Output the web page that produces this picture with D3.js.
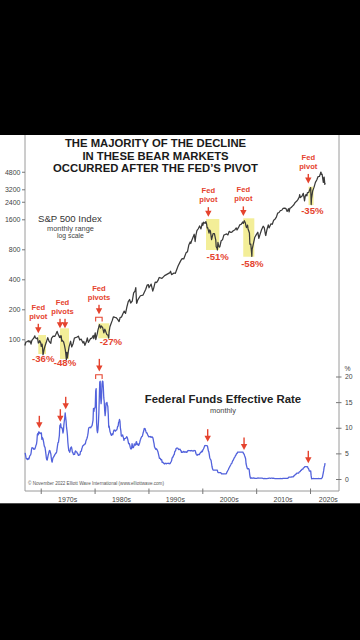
<!DOCTYPE html>
<html><head><meta charset="utf-8">
<script src="https://cdn.jsdelivr.net/npm/d3@7"></script>
<style>
html,body{margin:0;padding:0;background:#000;}
svg{display:block;}
text{font-family:"Liberation Sans",Arial,Helvetica,sans-serif;}
</style></head><body>
<svg id="c" width="360" height="640"></svg>
<script>
// ---------- DATA ----------
const titleLines = ["THE MAJORITY OF THE DECLINE", "IN THESE BEAR MARKETS", "OCCURRED AFTER THE FED\u2019S PIVOT"];
const spTicks = [100, 200, 400, 800, 1600, 2400, 3200, 4800];
const rateTicks = [0, 5, 10, 15, 20];
const decadeTicks = [1970, 1980, 1990, 2000, 2010, 2020];
const decadeLabels = ["1970s", "1980s", "1990s", "2000s", "2010s", "2020s"];

// S&P 500 (date as decimal year, index level)
const spPoints = [
 [1967.05,86.6],[1967.25,94.0],[1967.5,94.8],[1967.72,96.7],[1967.83,93.9],[1968.0,96.5],[1968.2,89.4],[1968.35,97.5],[1968.5,99.6],[1968.7,102.7],[1968.9,108.4],
 [1969.0,103.9],[1969.25,101.5],[1969.4,103.5],[1969.55,91.8],[1969.7,93.1],[1969.8,97.1],[1970.0,92.1],[1970.1,85.0],[1970.25,89.6],[1970.35,81.5],[1970.42,70.0],
 [1970.5,72.7],[1970.6,78.0],[1970.75,84.2],[1971.0,92.2],[1971.3,104.0],[1971.55,95.6],[1971.87,91.0],[1972.0,102.1],[1972.3,107.7],[1972.6,107.0],[1972.75,110.6],
 [1973.0,118.1],[1973.05,120.2],[1973.25,111.5],[1973.5,104.3],[1973.6,108.2],[1973.68,104.2],[1973.8,108.3],[1973.9,96.0],[1974.0,97.6],[1974.25,94.0],[1974.4,87.3],
 [1974.55,79.3],[1974.65,72.2],[1974.76,62.5],[1974.85,73.9],[1974.95,65.0],[1975.0,68.6],[1975.25,83.4],[1975.55,95.6],[1975.75,83.9],[1976.0,90.2],[1976.25,102.8],
 [1976.5,104.3],[1976.75,105.2],[1977.0,107.5],[1977.25,98.4],[1977.5,100.5],[1977.85,92.0],[1978.0,95.1],[1978.2,87.0],[1978.5,95.5],[1978.65,103.3],[1978.85,93.2],
 [1979.0,96.1],[1979.25,101.6],[1979.5,102.9],[1979.75,109.3],[1979.85,101.8],[1980.0,107.9],[1980.12,116.0],[1980.22,99.5],[1980.5,114.2],[1980.6,122.4],[1980.9,140.5],
 [1981.0,135.8],[1981.1,129.5],[1981.25,136.0],[1981.5,131.2],[1981.72,116.2],[1981.9,126.4],[1982.0,122.6],[1982.25,112.0],[1982.5,109.6],[1982.62,103.0],[1982.7,119.5],
 [1982.85,133.7],[1983.0,140.6],[1983.25,153.0],[1983.5,168.1],[1983.8,166.1],[1984.0,164.9],[1984.25,159.2],[1984.55,150.7],[1984.75,166.1],[1985.0,167.2],[1985.25,180.7],
 [1985.5,191.9],[1985.75,182.1],[1986.0,211.3],[1986.25,238.9],[1986.5,250.8],[1986.7,231.3],[1987.0,242.2],[1987.25,291.7],[1987.5,304.0],[1987.65,329.8],[1987.8,230.0],
 [1987.85,230.3],[1988.0,247.1],[1988.5,273.5],[1989.0,277.7],[1989.5,318.0],[1989.75,349.2],[1990.0,353.4],[1990.1,329.1],[1990.5,358.0],[1990.8,304.0],[1991.0,330.2],
 [1991.25,375.2],[1991.5,371.2],[1991.75,387.9],[1992.0,417.1],[1992.5,408.1],[1993.0,435.7],[1993.5,450.5],[1994.0,466.5],[1994.1,481.6],[1994.3,445.8],[1994.75,462.7],
 [1995.0,459.3],[1995.5,544.8],[1996.0,615.9],[1996.25,645.5],[1996.55,639.9],[1997.0,740.7],[1997.25,757.1],[1997.5,885.1],[1997.75,947.3],[1997.85,914.6],[1998.0,970.4],
 [1998.5,1133.8],[1998.67,957.3],[1998.8,1098.7],[1999.0,1229.2],[1999.25,1286.4],[1999.5,1372.7],[1999.75,1282.7],[2000.0,1469.3],[2000.1,1394.5],[2000.25,1498.6],
 [2000.5,1454.6],[2000.67,1517.7],[2000.8,1429.4],[2000.9,1315.2],[2001.0,1320.3],[2001.25,1160.3],[2001.35,1249.5],[2001.5,1224.4],[2001.72,1000.0],[2002.0,1148.1],
 [2002.25,1147.4],[2002.5,989.8],[2002.58,850.0],[2002.75,815.3],[2002.8,790.0],[2002.9,936.3],[2003.0,879.8],[2003.15,841.2],[2003.25,848.2],[2003.5,974.5],[2003.75,996.0],
 [2004.0,1111.9],[2004.25,1126.2],[2004.5,1140.8],[2004.75,1114.6],[2005.0,1211.9],[2005.3,1180.6],[2005.5,1191.3],[2005.75,1228.8],[2006.0,1248.3],[2006.3,1310.6],
 [2006.45,1250.0],[2006.75,1335.9],[2007.0,1418.3],[2007.2,1420.9],[2007.5,1503.4],[2007.6,1455.3],[2007.8,1549.4],[2008.0,1468.4],[2008.1,1378.6],[2008.2,1322.7],
 [2008.4,1400.4],[2008.5,1280.0],[2008.75,1166.4],[2008.83,900.0],[2008.9,896.2],[2009.0,903.3],[2009.15,735.1],[2009.2,680.0],[2009.25,797.9],[2009.5,919.3],
 [2009.75,1057.1],[2010.0,1115.1],[2010.3,1186.7],[2010.5,1030.7],[2010.75,1141.2],[2011.0,1257.6],[2011.3,1363.6],[2011.5,1320.6],[2011.72,1131.4],[2011.78,1100.0],
 [2012.0,1257.6],[2012.25,1408.5],[2012.4,1310.3],[2012.75,1440.7],[2013.0,1426.2],[2013.25,1569.2],[2013.5,1606.3],[2013.75,1681.6],[2014.0,1848.4],[2014.25,1872.3],
 [2014.5,1960.2],[2014.75,1972.3],[2015.0,2058.9],[2015.25,2067.9],[2015.5,2063.1],[2015.65,1972.2],[2015.75,1920.0],[2016.0,2043.9],[2016.12,1900.0],[2016.25,2059.7],
 [2016.5,2098.9],[2016.75,2168.3],[2017.0,2238.8],[2017.25,2362.7],[2017.5,2423.4],[2017.75,2519.4],[2018.0,2673.6],[2018.08,2823.8],[2018.2,2640.9],[2018.5,2718.4],
 [2018.75,2914.0],[2018.85,2711.7],[2018.98,2450.0],[2019.1,2704.1],[2019.25,2834.4],[2019.42,2752.1],[2019.5,2941.8],[2019.75,2976.7],[2020.0,3230.8],[2020.12,3330.0],
 [2020.22,2250.0],[2020.28,2584.6],[2020.5,3100.3],[2020.75,3363.0],[2021.0,3756.1],[2021.25,3972.9],[2021.5,4297.5],[2021.75,4307.5],[2021.9,4567.0],[2022.0,4766.2],
 [2022.05,4750.0],[2022.1,4515.6],[2022.25,4530.4],[2022.35,4132.2],[2022.47,3750.0],[2022.55,4130.3],[2022.62,4250.0],[2022.75,3585.6],[2022.8,3720.0]
];

// Federal funds effective rate, monthly, starting January 1967
const fedStartYear = 1967;
const fedRates = [
 4.94,5.00,4.53,4.05,3.94,3.98,3.79,3.90,3.99,3.88,4.13,4.51,
 4.61,4.71,5.05,5.76,6.11,6.07,6.02,6.03,5.78,5.91,5.82,6.02,
 6.30,6.61,6.79,7.41,8.67,8.90,8.61,9.19,9.15,9.00,8.85,8.97,
 8.98,8.98,7.76,8.10,7.95,7.61,7.21,6.61,6.29,6.20,5.60,4.90,
 4.14,3.72,3.71,4.16,4.63,4.91,5.31,5.56,5.55,5.20,4.91,4.14,
 3.50,3.29,3.83,4.17,4.27,4.46,4.55,4.80,4.87,5.04,5.06,5.33,
 5.94,6.58,7.09,7.12,7.84,8.49,10.40,10.50,10.78,10.01,10.03,9.95,
 9.65,8.97,9.35,10.51,11.31,11.93,12.92,12.01,11.34,10.06,9.45,8.53,
 7.13,6.24,5.54,5.49,5.22,5.55,6.10,6.14,6.24,5.82,5.22,5.20,
 4.87,4.77,4.84,4.82,5.29,5.48,5.31,5.29,5.25,5.02,4.95,4.65,
 4.61,4.68,4.69,4.73,5.35,5.39,5.42,5.90,6.14,6.47,6.51,6.56,
 6.70,6.78,6.79,6.89,7.36,7.60,7.81,8.04,8.45,8.96,9.76,10.03,
 10.07,10.06,10.09,10.01,10.24,10.29,10.47,10.94,11.43,13.77,13.18,13.78,
 13.82,14.13,17.19,17.61,10.98,9.47,9.03,9.61,10.87,12.81,15.85,18.90,
 19.08,15.93,14.70,15.72,18.52,19.10,19.04,17.82,15.87,15.08,13.31,12.37,
 13.22,14.78,14.68,14.94,14.45,14.15,12.59,10.12,10.31,9.71,9.20,8.95,
 8.68,8.51,8.77,8.80,8.63,8.98,9.37,9.56,9.45,9.48,9.34,9.47,
 9.56,9.59,9.91,10.29,10.32,11.06,11.23,11.64,11.30,9.99,9.43,8.38,
 8.35,8.50,8.58,8.27,7.97,7.53,7.88,7.90,7.92,7.99,8.05,8.27,
 8.14,7.86,7.48,6.99,6.85,6.92,6.56,6.17,5.89,5.85,6.04,6.91,
 6.43,6.10,6.13,6.37,6.85,6.73,6.58,6.73,7.22,7.29,6.69,6.77,
 6.83,6.58,6.58,6.87,7.09,7.51,7.75,8.01,8.19,8.30,8.35,8.76,
 9.12,9.36,9.85,9.84,9.81,9.53,9.24,8.99,9.02,8.84,8.55,8.45,
 8.23,8.24,8.28,8.26,8.18,8.29,8.15,8.13,8.20,8.11,7.81,7.31,
 6.91,6.25,6.12,5.91,5.78,5.90,5.82,5.66,5.45,5.21,4.81,4.43,
 4.03,4.06,3.98,3.73,3.82,3.76,3.25,3.30,3.22,3.10,3.09,2.92,
 3.02,3.03,3.07,2.96,3.00,3.04,3.06,3.03,3.09,2.99,3.02,2.96,
 3.05,3.25,3.34,3.56,4.01,4.25,4.26,4.47,4.73,4.76,5.29,5.45,
 5.53,5.92,5.98,6.05,6.01,6.00,5.85,5.74,5.80,5.76,5.80,5.60,
 5.56,5.22,5.31,5.22,5.24,5.27,5.40,5.22,5.30,5.24,5.31,5.29,
 5.25,5.19,5.39,5.51,5.50,5.56,5.52,5.54,5.54,5.50,5.52,5.50,
 5.56,5.51,5.49,5.45,5.49,5.56,5.54,5.55,5.51,5.07,4.83,4.68,
 4.63,4.76,4.81,4.74,4.74,4.76,4.99,5.07,5.22,5.20,5.42,5.30,
 5.45,5.73,5.85,6.02,6.27,6.53,6.54,6.50,6.52,6.51,6.51,6.40,
 5.98,5.49,5.31,4.80,4.21,3.97,3.77,3.65,3.07,2.49,2.09,1.82,
 1.73,1.74,1.73,1.75,1.75,1.75,1.73,1.74,1.75,1.75,1.34,1.24,
 1.24,1.26,1.25,1.26,1.26,1.22,1.01,1.03,1.01,1.01,1.00,0.98,
 1.00,1.01,1.00,1.00,1.00,1.03,1.26,1.43,1.61,1.76,1.93,2.16,
 2.28,2.50,2.63,2.79,3.00,3.04,3.26,3.50,3.62,3.78,4.00,4.16,
 4.29,4.49,4.59,4.79,4.94,4.99,5.24,5.25,5.25,5.25,5.25,5.24,
 5.25,5.26,5.26,5.25,5.25,5.25,5.26,5.02,4.94,4.76,4.49,4.24,
 3.94,2.98,2.61,2.28,1.98,2.00,2.01,2.00,1.81,0.97,0.39,0.16,
 0.15,0.22,0.18,0.15,0.18,0.21,0.16,0.16,0.15,0.12,0.12,0.12,
 0.11,0.13,0.16,0.20,0.20,0.18,0.18,0.19,0.19,0.19,0.19,0.18,
 0.17,0.16,0.14,0.10,0.09,0.09,0.07,0.10,0.08,0.07,0.08,0.07,
 0.08,0.10,0.13,0.14,0.16,0.16,0.16,0.13,0.14,0.16,0.16,0.16,
 0.14,0.15,0.14,0.15,0.11,0.09,0.09,0.08,0.08,0.09,0.08,0.09,
 0.07,0.07,0.08,0.09,0.09,0.10,0.09,0.09,0.09,0.09,0.09,0.12,
 0.11,0.11,0.11,0.12,0.12,0.13,0.13,0.14,0.14,0.12,0.12,0.24,
 0.34,0.38,0.36,0.37,0.37,0.38,0.39,0.40,0.40,0.40,0.41,0.54,
 0.65,0.66,0.79,0.90,0.91,1.04,1.15,1.16,1.15,1.15,1.16,1.30,
 1.41,1.42,1.51,1.69,1.70,1.82,1.91,1.91,1.95,2.19,2.20,2.27,
 2.40,2.40,2.41,2.42,2.39,2.38,2.40,2.13,2.04,1.83,1.55,1.55,
 1.55,1.58,0.65,0.05,0.05,0.08,0.09,0.10,0.09,0.09,0.09,0.09,
 0.09,0.08,0.07,0.07,0.06,0.08,0.10,0.09,0.08,0.08,0.08,0.08,
 0.08,0.08,0.20,0.33,0.77,1.21,1.68,2.33,2.56,3.08
];

// Bear markets highlighted (yellow boxes)
const bearStart = [1969.55, 1973.58, 1980.69, 2000.69, 2007.60, 2019.73];
const bearEnd   = [1970.98, 1975.25, 1982.73, 2003.16, 2009.66, 2020.66];
const bearHigh  = [110.4, 128.9, 144.7, 1612, 1637, 3398];
const bearLow   = [71.2, 63.5, 102.3, 787, 674, 2222];
const bearPct   = ["-36%", "-48%", "-27%", "-51%", "-58%", "-35%"];
const pctDate   = [1970.48, 1974.51, 1983.02, 2002.86, 2009.29, 2020.43];
const pctValue  = [58.8, 54.0, 87.6, 625, 535, 1809];

// Fed pivot arrows on the S&P panel
const pivotWord    = ["pivot", "pivots", "pivots", "pivot", "pivot", "pivot"];
const spArrowDates = [[1969.55], [1973.58, 1974.51], [1980.82], [2001.12], [2007.62], [2019.68]];
const spArrowValue = [114.9, 128.9, 178.2, 1700, 1730, 3664];
const spBracket    = [false, false, true, false, false, false];
// Fed pivot arrows on the rate panel
const fedArrowDate = [1969.74, 1973.64, 1974.64, 1980.88, 2001.0, 2007.75, 2019.68];
const fedArrowRate = [9.89, 11.18, 13.6, 21.0, 7.28, 5.66, 3.06];
const fedBracket   = [false, false, false, true, false, false, false];
const bracketSpan  = [1980.2, 1981.4];

// ---------- DRAW ----------
const RED = "#e5432e", YEL = "#f3ee98", BLUE = "#5262dc", AXIS = "#9a9a9a", TXT = "#333";
const svg = d3.select("#c");
svg.append("rect").attr("width", 360).attr("height", 640).attr("fill", "#000");
svg.append("rect").attr("x", 0).attr("y", 135).attr("width", 360).attr("height", 368.3).attr("fill", "#fff");

const x = d3.scaleLinear().domain([1967.08, 2025.38]).range([25, 339]);
const ySP = d3.scaleLog().domain([50, 6400]).range([369.3, 159.3]);
const yFF = d3.scaleLinear().domain([0, 20]).range([479, 376.5]);

// Title
svg.append("g").selectAll("text").data(titleLines).join("text")
  .attr("x", 155.5).attr("y", (d, i) => 147.3 + i * 12.3)
  .attr("text-anchor", "middle").attr("font-size", 11.3).attr("font-weight", "bold")
  .attr("fill", "#1a1a1a").text(d => d);

// Frame lines
svg.append("line").attr("x1", 25).attr("x2", 25).attr("y1", 135).attr("y2", 491).attr("stroke", AXIS).attr("stroke-width", 1);
svg.append("line").attr("x1", 339).attr("x2", 339).attr("y1", 135).attr("y2", 491).attr("stroke", AXIS).attr("stroke-width", 1);

// Left axis (S&P log scale)
const gL = svg.append("g").attr("transform", "translate(25,0)")
  .call(d3.axisLeft(ySP).tickValues(spTicks).tickFormat(d3.format("d")).tickSize(3).tickPadding(1.5));
gL.select(".domain").remove();
gL.selectAll("line").attr("stroke", "#777");
gL.selectAll("text").attr("font-size", 7).attr("fill", "#444").attr("font-family", '"Liberation Sans",Arial,sans-serif');

// Right axis (rates)
const gR = svg.append("g").attr("transform", "translate(339,0)")
  .call(d3.axisRight(yFF).tickValues(rateTicks).tickSize(3).tickPadding(3));
gR.select(".domain").remove();
gR.selectAll("line").attr("x1", -3).attr("x2", 2.5).attr("stroke", "#777");
gR.selectAll("text").attr("font-size", 6.8).attr("fill", "#444").attr("font-family", '"Liberation Sans",Arial,sans-serif');
svg.append("text").attr("x", 344.5).attr("y", 370.5).attr("font-size", 6.8).attr("fill", "#444").text("%");

// Bottom axis
const gB = svg.append("g").attr("transform", "translate(0,491)")
  .call(d3.axisBottom(x).tickValues(decadeTicks).tickSize(3).tickFormat(""));
gB.select(".domain").attr("d", "M25,0H339").attr("stroke", AXIS);
gB.selectAll(".tick line").attr("y1", -2.5).attr("y2", 3).attr("stroke", "#777");
svg.append("g").selectAll("text").data(decadeTicks).join("text")
  .attr("x", d => x(Math.min(d + 5, 2023.4))).attr("y", 501.5)
  .attr("text-anchor", "middle").attr("font-size", 7).attr("fill", "#444")
  .text((d, i) => decadeLabels[i]);

// Yellow boxes
svg.append("g").selectAll("rect").data(bearStart).join("rect")
  .attr("x", (d) => x(d)).attr("width", (d, i) => x(bearEnd[i]) - x(d))
  .attr("y", (d, i) => ySP(bearHigh[i])).attr("height", (d, i) => ySP(bearLow[i]) - ySP(bearHigh[i]))
  .attr("fill", YEL);

// S&P line
svg.append("path").datum(spPoints)
  .attr("d", d3.line().x(d => x(d[0])).y(d => ySP(d[1])))
  .attr("fill", "none").attr("stroke", "#3a3a3a").attr("stroke-width", 1.25).attr("stroke-linejoin", "round");

// S&P labels
svg.append("text").attr("x", 38).attr("y", 221.7).attr("font-size", 9.6).attr("fill", "#333").text("S&P 500 Index");
svg.append("text").attr("x", 70.5).attr("y", 230.7).attr("font-size", 7.4).attr("fill", "#444").attr("text-anchor", "middle").text("monthly range");
svg.append("text").attr("x", 70.5).attr("y", 238.3).attr("font-size", 6.8).attr("fill", "#444").attr("text-anchor", "middle").text("log scale");

// Fed funds line
const fedSeries = fedRates.map((v, i) => [fedStartYear + i / 12 + 1 / 24, v]);
svg.append("path").datum(fedSeries)
  .attr("d", d3.line().x(d => x(d[0])).y(d => yFF(d[1])))
  .attr("fill", "none").attr("stroke", BLUE).attr("stroke-width", 1.3).attr("stroke-linejoin", "round");

svg.append("text").attr("x", 223).attr("y", 403).attr("text-anchor", "middle")
  .attr("font-size", 11.4).attr("font-weight", "bold").attr("fill", "#222").text("Federal Funds Effective Rate");
svg.append("text").attr("x", 223).attr("y", 412.7).attr("text-anchor", "middle")
  .attr("font-size", 7.4).attr("fill", "#444").text("monthly");

svg.append("text").attr("x", 28).attr("y", 485.3).attr("font-size", 4.6).attr("fill", "#555")
  .text("\u00A9 November 2022 Elliott Wave International (www.elliottwave.com)");

// Arrow helper
function arrow(g, cx, tip, total) {
  g.append("rect").attr("x", cx - 0.7).attr("y", tip - total).attr("width", 1.4).attr("height", total - 5).attr("fill", RED);
  g.append("path").attr("d", `M${cx - 3.2},${tip - 6}L${cx + 3.2},${tip - 6}L${cx},${tip}Z`).attr("fill", RED);
}
function bracket(g, x0, x1, yTop) {
  g.append("path").attr("d", `M${x0},${yTop + 4.2}V${yTop}H${x1}V${yTop + 4.2}`)
    .attr("fill", "none").attr("stroke", RED).attr("stroke-width", 1.1);
}

const ann = svg.append("g");
spArrowDates.forEach((dates, i) => {
  const tip = ySP(spArrowValue[i]);
  dates.forEach(dt => arrow(ann, x(dt), tip, 9.5));
  const cx = d3.mean(dates, dt => x(dt));
  ann.append("text").attr("x", cx).attr("y", tip - 23.5).attr("text-anchor", "middle")
    .attr("font-size", 7.6).attr("font-weight", "bold").attr("fill", RED).text("Fed");
  ann.append("text").attr("x", cx).attr("y", tip - 14.5).attr("text-anchor", "middle")
    .attr("font-size", 7.6).attr("font-weight", "bold").attr("fill", RED).text(pivotWord[i]);
  if (spBracket[i]) bracket(ann, x(bracketSpan[0]), x(bracketSpan[1]), tip + 3);
});
bearPct.forEach((t, i) => {
  ann.append("text").attr("x", x(pctDate[i])).attr("y", ySP(pctValue[i])).attr("text-anchor", "middle")
    .attr("font-size", 9.6).attr("font-weight", "bold").attr("fill", RED).text(t);
});
fedArrowDate.forEach((dt, i) => {
  const tip = yFF(fedArrowRate[i]);
  arrow(ann, x(dt), tip, 12.5);
  if (fedBracket[i]) bracket(ann, x(bracketSpan[0]), x(bracketSpan[1]), tip + 3.3);
});
</script>
</body></html>
